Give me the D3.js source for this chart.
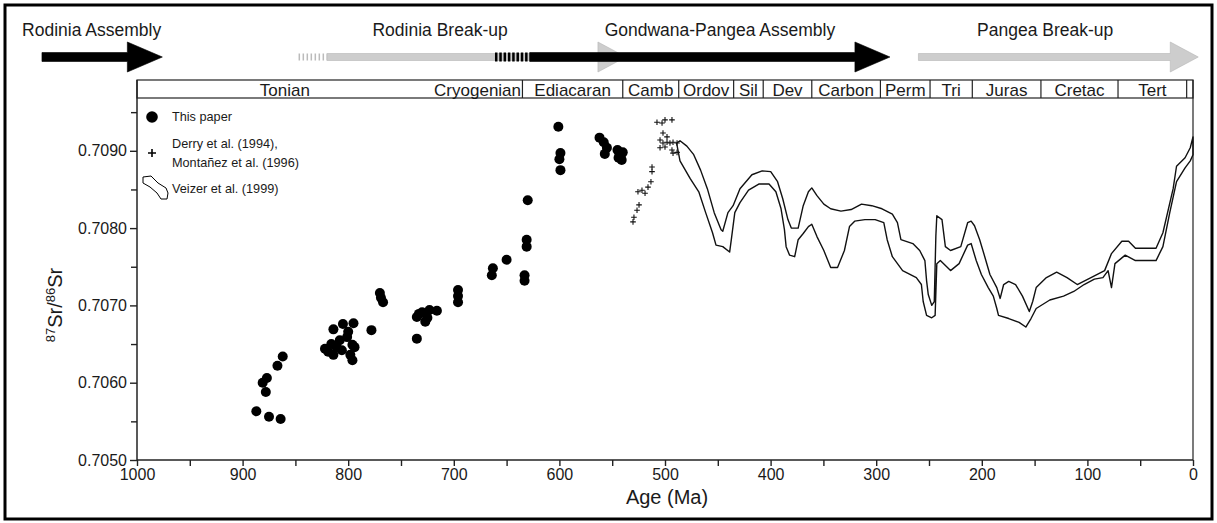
<!DOCTYPE html>
<html lang="en">
<head>
<meta charset="utf-8">
<title>87Sr/86Sr through the Neoproterozoic and Phanerozoic</title>
<script src="https://d3js.org/d3.v7.min.js"></script>
<style>
  body { margin: 0; background: #fff; }
  svg text { font-family: "Liberation Sans", Arial, Helvetica, sans-serif; fill: #1a1a1a; }
</style>
</head>
<body>
<div id="chart"></div>
<script>
// ---- data ----
var ageTicks = [1000, 900, 800, 700, 600, 500, 400, 300, 200, 100, 0];
var ageMinorTicks = [950, 850, 750, 650, 550, 450, 350, 250, 150, 50];
var srTicks = [0.7050, 0.7060, 0.7070, 0.7080, 0.7090];
var srMinorTicks = [0.7055, 0.7065, 0.7075, 0.7085, 0.7095];

// geological periods (Ma)
var periodNames = ["Tonian", "Cryogenian", "Ediacaran", "Camb", "Ordov", "Sil", "Dev", "Carbon", "Perm", "Tri", "Juras", "Cretac", "Tert", ""];
var periodBounds = [1000, 720, 635, 540, 487, 435, 407, 361, 296, 249, 209, 144, 71, 6, 0];
var hiddenDividers = [720];

// tectonic events shown as arrows above the plot (Ma)
var eventNames = ["Rodinia Assembly", "Rodinia Break-up", "Gondwana-Pangea Assembly", "Pangea Break-up"];
var eventLabelAge = [1043, 713, 448, 140];
var eventTailAge = [1090, 820, 628, 260];
var eventTipAge = [976, 537, 287, -5];
var eventDashStart = [null, 847, 661, null];
var eventDark = [true, false, true, false];

// "This paper" samples: [age Ma, 87Sr/86Sr]
var thisPaper = [
  [887, 0.70563], [875, 0.70556], [864, 0.70553], [881, 0.70600], [878, 0.70588],
  [877, 0.70606], [867, 0.70622], [862, 0.70634],
  [814, 0.70669], [805, 0.70676], [795, 0.70677], [819, 0.70640], [814, 0.70636],
  [808, 0.70655], [801, 0.70659], [796, 0.70649], [794, 0.70646], [796, 0.70629],
  [811, 0.70646], [806, 0.70642], [800, 0.70666], [822, 0.70644], [816, 0.70650],
  [798, 0.70636], [778, 0.70668], [770, 0.70716], [769, 0.70710], [767, 0.70704],
  [735, 0.70685], [733, 0.70689], [730, 0.70691], [723, 0.70694], [716, 0.70693],
  [727, 0.70679], [725, 0.70684], [735, 0.70657],
  [696, 0.70720], [696, 0.70712], [696, 0.70704],
  [663, 0.70748], [664, 0.70739], [650, 0.70759],
  [630, 0.70836], [631, 0.70785], [631, 0.70776], [633, 0.70739], [633, 0.70732],
  [601, 0.70931], [599, 0.70897], [600, 0.70889], [599, 0.70875],
  [562, 0.70917], [558, 0.70911], [555, 0.70904], [557, 0.70896],
  [545, 0.70901], [543, 0.70896], [541, 0.70888], [544, 0.70891], [542, 0.70893], [540, 0.70898]
];

// Derry et al. (1994), Montañez et al. (1996): [age Ma, 87Sr/86Sr]
var derryMontanez = [
  [530.3, 0.70808], [529.4, 0.70814], [526.5, 0.70823], [524.6, 0.70830], [525.6, 0.70847],
  [521.8, 0.70849], [518.9, 0.70845], [516.1, 0.70853], [513.3, 0.70860], [512.3, 0.70873],
  [512.3, 0.70879], [507.6, 0.70937], [502.8, 0.70936], [500.0, 0.70940], [493.4, 0.70940],
  [501.9, 0.70923], [504.7, 0.70914], [501.9, 0.70910], [498.1, 0.70911], [495.3, 0.70910],
  [492.4, 0.70911], [488.6, 0.70910], [504.7, 0.70904], [500.0, 0.70905], [493.4, 0.70901],
  [488.6, 0.70898], [498.1, 0.70918], [492.4, 0.70897]
];

// Veizer et al. (1999) envelope
var veizerUpper = [
  [489, 0.70910], [485.8, 0.70913], [479.3, 0.70906], [472.8, 0.70895], [466.3, 0.70875],
  [459.9, 0.70851], [453.4, 0.70820], [446.9, 0.70798], [445.3, 0.70796], [440.4, 0.70820],
  [435.5, 0.70829], [429.0, 0.70851], [417.7, 0.70869], [408.0, 0.70874], [399.9, 0.70873],
  [393.4, 0.70860], [388.5, 0.70838], [383.6, 0.70811], [380.4, 0.70800], [373.9, 0.70800],
  [369.1, 0.70829], [364.2, 0.70847], [361.0, 0.70852], [356.1, 0.70842], [349.6, 0.70831],
  [343.1, 0.70825], [333.4, 0.70822], [323.7, 0.70824], [313.9, 0.70831], [304.2, 0.70829],
  [294.5, 0.70825], [284.7, 0.70818], [279.9, 0.70807], [276.6, 0.70785], [265.3, 0.70780],
  [258.8, 0.70771], [253.9, 0.70758], [252.3, 0.70732], [250.7, 0.70714], [247.4, 0.70700],
  [245.0, 0.70705], [243.5, 0.70790], [242.6, 0.70816], [237.7, 0.70811], [234.5, 0.70776],
  [229.6, 0.70771], [219.9, 0.70776], [213.4, 0.70807], [210.1, 0.70809], [206.9, 0.70803],
  [202.0, 0.70785], [197.2, 0.70763], [192.3, 0.70740], [185.8, 0.70723], [182.6, 0.70709],
  [179.3, 0.70727], [174.5, 0.70731], [168.0, 0.70727], [161.5, 0.70712], [155.0, 0.70692],
  [151.8, 0.70705], [148.5, 0.70723], [138.8, 0.70736], [129.1, 0.70743], [119.3, 0.70736],
  [109.6, 0.70727], [96.6, 0.70736], [83.7, 0.70745], [77.2, 0.70767], [67.4, 0.70783],
  [61.0, 0.70783], [54.5, 0.70774], [35.0, 0.70774], [28.5, 0.70794], [18.8, 0.70851],
  [15.6, 0.70880], [7.5, 0.70891], [2.6, 0.70904], [0, 0.70918]
];
var veizerLower = [
  [489, 0.70910], [485.8, 0.70887], [476.1, 0.70864], [468.0, 0.70847], [461.5, 0.70820],
  [455.0, 0.70794], [451.7, 0.70778], [445.3, 0.70776], [438.8, 0.70769], [437.2, 0.70785],
  [433.9, 0.70820], [429.0, 0.70833], [420.9, 0.70849], [411.2, 0.70857], [401.5, 0.70857],
  [395.0, 0.70847], [390.1, 0.70825], [386.9, 0.70798], [385.3, 0.70776], [382.0, 0.70765],
  [377.2, 0.70763], [373.9, 0.70785], [369.1, 0.70793], [364.2, 0.70802], [361.0, 0.70805],
  [356.1, 0.70789], [349.6, 0.70771], [343.1, 0.70749], [336.6, 0.70749], [330.1, 0.70771],
  [325.3, 0.70802], [320.4, 0.70809], [310.7, 0.70811], [301.0, 0.70811], [292.8, 0.70807],
  [289.6, 0.70785], [284.7, 0.70763], [275.0, 0.70745], [262.0, 0.70736], [257.2, 0.70727],
  [255.5, 0.70705], [252.3, 0.70687], [247.4, 0.70684], [244.2, 0.70687], [242.6, 0.70754],
  [239.3, 0.70758], [229.6, 0.70745], [221.5, 0.70754], [213.4, 0.70778], [210.1, 0.70780],
  [205.3, 0.70758], [200.4, 0.70740], [193.9, 0.70723], [189.1, 0.70712], [185.8, 0.70696],
  [184.2, 0.70687], [174.5, 0.70683], [164.7, 0.70678], [158.3, 0.70672], [153.4, 0.70683],
  [148.5, 0.70696], [135.6, 0.70707], [122.6, 0.70712], [112.9, 0.70718], [103.1, 0.70727],
  [93.4, 0.70734], [85.3, 0.70736], [80.4, 0.70745], [77.2, 0.70723], [73.9, 0.70754],
  [64.2, 0.70765], [54.5, 0.70758], [35.0, 0.70758], [28.5, 0.70776], [22.0, 0.70820],
  [15.6, 0.70860], [7.5, 0.70878], [2.6, 0.70887], [0, 0.70895]
];

// ---- layout ----
var W = 1217, H = 523;
var plot = {left: 137, right: 1193, top: 98, bottom: 460, barTop: 80};

var svg = d3.select("#chart").append("svg")
    .attr("width", W)
    .attr("height", H);

// outer frame
svg.append("rect")
    .attr("x", 5).attr("y", 5)
    .attr("width", W - 10).attr("height", H - 9)
    .attr("fill", "none").attr("stroke", "#000").attr("stroke-width", 3);

var x = d3.scaleLinear().domain([1000, 0]).range([plot.left, plot.right]);
var y = d3.scaleLinear().domain([0.7050, 0.7090]).range([plot.bottom, plot.bottom - 4 * 77.3]);

// ---- tectonic arrows ----
var arrowY = 57;
var arrows = svg.append("g");
eventNames.forEach(function(name, i) {
  var dark = eventDark[i];
  var half = dark ? 4.5 : 3.5;
  var headBase = x(eventTipAge[i]) - (dark ? 35 : 28);
  var col = dark ? "#000" : "#cdcdcd";
  if (eventDashStart[i] != null) {
    arrows.append("line")
      .attr("x1", x(eventDashStart[i])).attr("x2", x(eventTailAge[i]))
      .attr("y1", arrowY).attr("y2", arrowY)
      .attr("stroke", dark ? "#000" : "#bbb")
      .attr("stroke-width", half * 2)
      .attr("stroke-dasharray", dark ? "2.5,1.8" : "1.5,2.5");
  }
  arrows.append("path")
    .attr("d", "M" + x(eventTailAge[i]) + "," + (arrowY - half) +
               "H" + headBase + "V" + (arrowY - 15) +
               "L" + x(eventTipAge[i]) + "," + arrowY +
               "L" + headBase + "," + (arrowY + 15) +
               "V" + (arrowY + half) + "H" + x(eventTailAge[i]) + "Z")
    .attr("fill", col)
    .attr("stroke", dark ? "#000" : "#b5b5b5")
    .attr("stroke-width", 0.6);
  svg.append("text")
    .attr("x", x(eventLabelAge[i])).attr("y", 36)
    .attr("text-anchor", "middle")
    .style("font-size", "17.5px")
    .text(name);
});
// black arrow drawn over the grey head
arrows.selectAll("path").filter(function(d, i) { return i === 2; }).raise();

// ---- period bar ----
var bar = svg.append("g");
bar.append("rect")
  .attr("x", x(1000)).attr("y", plot.barTop)
  .attr("width", x(0) - x(1000)).attr("height", plot.top - plot.barTop)
  .attr("fill", "none").attr("stroke", "#222").attr("stroke-width", 1.2);
periodBounds.slice(1, -1).forEach(function(b) {
  if (hiddenDividers.indexOf(b) >= 0) return;
  bar.append("line")
    .attr("x1", x(b)).attr("x2", x(b))
    .attr("y1", plot.barTop).attr("y2", plot.top)
    .attr("stroke", "#222").attr("stroke-width", 1.2);
});
periodNames.forEach(function(n, i) {
  bar.append("text")
    .attr("x", (x(periodBounds[i]) + x(periodBounds[i + 1])) / 2)
    .attr("y", plot.top - 2.5)
    .attr("text-anchor", "middle")
    .style("font-size", "17px")
    .text(n);
});

// right border of plot
svg.append("line")
  .attr("x1", x(0)).attr("x2", x(0))
  .attr("y1", plot.barTop).attr("y2", plot.bottom)
  .attr("stroke", "#222").attr("stroke-width", 1.2);

// ---- axes ----
var xAxis = svg.append("g")
  .attr("transform", "translate(0," + plot.bottom + ")")
  .call(d3.axisBottom(x).tickValues(ageTicks).tickSize(6).tickPadding(3).tickFormat(d3.format("d")));
svg.append("g")
  .attr("transform", "translate(0," + plot.bottom + ")")
  .call(d3.axisBottom(x).tickValues(ageMinorTicks).tickSize(6).tickFormat(""))
  .select(".domain").remove();

var yAxis = svg.append("g")
  .attr("transform", "translate(" + plot.left + ",0)")
  .call(d3.axisLeft(y).tickValues(srTicks).tickSize(7).tickPadding(3).tickFormat(d3.format(".4f")));
svg.append("g")
  .attr("transform", "translate(" + plot.left + ",0)")
  .call(d3.axisLeft(y).tickValues(srMinorTicks).tickSize(6).tickFormat(""))
  .select(".domain").remove();
// y axis line up to top of period bar
svg.append("line")
  .attr("x1", plot.left).attr("x2", plot.left)
  .attr("y1", plot.barTop).attr("y2", plot.bottom)
  .attr("stroke", "#222").attr("stroke-width", 1.5);

svg.selectAll(".tick text").style("font-size", "16px").attr("fill", "#1a1a1a");
svg.selectAll(".domain, .tick line").attr("stroke", "#222").attr("stroke-width", 1.4);
xAxis.select(".domain").attr("d", "M" + plot.left + ",0H" + plot.right);
yAxis.select(".domain").remove();

// axis titles
svg.append("text")
  .attr("x", 667).attr("y", 504)
  .attr("text-anchor", "middle")
  .style("font-size", "20px")
  .text("Age (Ma)");

var yTitle = svg.append("text")
  .attr("transform", "translate(62,305) rotate(-90)")
  .attr("text-anchor", "middle")
  .style("font-size", "20px");
yTitle.append("tspan").attr("dy", -7).style("font-size", "13px").text("87");
yTitle.append("tspan").attr("dy", 7).text("Sr/");
yTitle.append("tspan").attr("dy", -7).style("font-size", "13px").text("86");
yTitle.append("tspan").attr("dy", 7).text("Sr");

// ---- data marks ----
var g = svg.append("g");

var band = veizerUpper.concat(veizerLower.slice().reverse());
g.append("path")
  .datum(band)
  .attr("fill", "none")
  .attr("stroke", "#111")
  .attr("stroke-width", 1.4)
  .attr("stroke-linejoin", "round")
  .attr("d", d3.line()
    .x(function(d) { return x(d[0]); })
    .y(function(d) { return y(d[1]); })
    .curve(d3.curveLinearClosed));

g.selectAll("path.cross")
  .data(derryMontanez)
  .enter().append("path")
  .attr("class", "cross")
  .attr("transform", function(d) { return "translate(" + x(d[0]) + "," + y(d[1]) + ")"; })
  .attr("d", "M-2.8,0H2.8M0,-2.8V2.8")
  .attr("stroke", "#111")
  .attr("stroke-width", 1.1);

g.selectAll("circle.dot")
  .data(thisPaper)
  .enter().append("circle")
  .attr("class", "dot")
  .attr("cx", function(d) { return x(d[0]); })
  .attr("cy", function(d) { return y(d[1]); })
  .attr("r", 5)
  .attr("fill", "#000");

// ---- legend ----
var lg = svg.append("g").style("font-size", "12.7px");
lg.append("circle").attr("cx", 152).attr("cy", 117).attr("r", 5.8).attr("fill", "#000");
lg.append("text").attr("x", 172).attr("y", 121).text("This paper");
lg.append("path").attr("d", "M148,153H156M152,149V157").attr("stroke", "#000").attr("stroke-width", 1.6);
lg.append("text").attr("x", 172).attr("y", 148).text("Derry et al. (1994),");
lg.append("text").attr("x", 172).attr("y", 167).text("Montañez et al. (1996)");
lg.append("path")
  .attr("d", "M143,177L151,176L158,183L166,188L168,193L167,199L161,199L157,193L150,187L143,183Z")
  .attr("fill", "none").attr("stroke", "#000").attr("stroke-width", 1);
lg.append("text").attr("x", 172).attr("y", 193).text("Veizer et al. (1999)");
</script>
</body>
</html>
